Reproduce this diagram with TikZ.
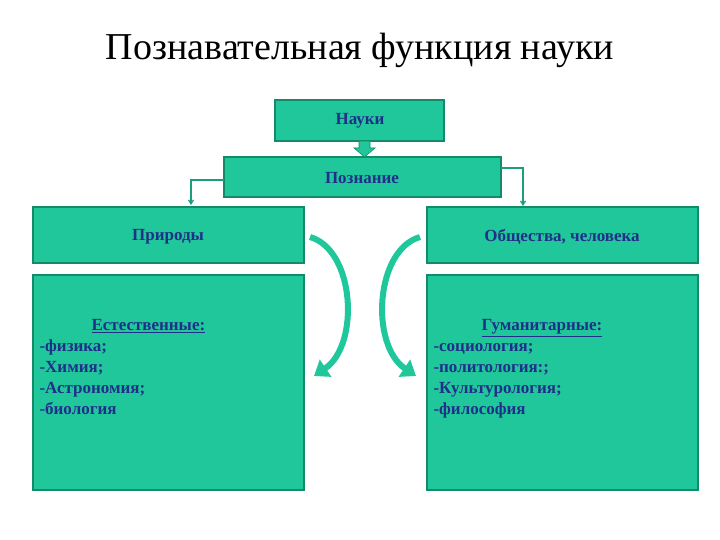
\documentclass[tikz,border=0pt]{standalone}
\usepackage{fontspec}
\setmainfont{Liberation Serif}
\usetikzlibrary{arrows.meta}
\definecolor{boxg}{HTML}{1FC79B}
\definecolor{edgeg}{HTML}{138A68}
\definecolor{txtb}{HTML}{1F2F8A}
\begin{document}
\begin{tikzpicture}[x=1pt,y=-1pt,
  box/.style={draw=edgeg,line width=1.2pt,fill=boxg,text=txtb,font=\bfseries\fontsize{17}{21}\selectfont},
  conn/.style={draw=boxg!80!black,line width=1.2pt,-{Straight Barb[length=4pt,width=5pt]}},
  curv/.style={draw=boxg,line width=6pt,-{Triangle[length=14pt,width=20pt]}}]
\useasboundingbox (0,0) rectangle (720,540);
\node[font=\fontsize{38}{44}\selectfont] (title) at (360,50) {Познавательная функция науки};
\path[box] (275,100) rectangle (444,141);
\node[text=txtb,font=\bfseries\fontsize{17}{21}\selectfont] (nauki) at (360,121) {Науки};
\path[box] (224,157) rectangle (501,197);
\node[text=txtb,font=\bfseries\fontsize{17}{21}\selectfont] (pozn) at (362,178) {Познание};
\path[box] (33,207) rectangle (304,263);
\node[text=txtb,font=\bfseries\fontsize{17}{21}\selectfont] (prir) at (168,237) {Природы};
\path[box] (427,207) rectangle (698,263);
\node[text=txtb,font=\bfseries\fontsize{17}{21}\selectfont] (obsh) at (562,237) {Общества, человека};
\path[box] (33,275) rectangle (304,490);
\path[box] (427,275) rectangle (698,490);
\node[text=txtb,font=\bfseries\fontsize{17}{21}\selectfont,align=left,anchor=north west] (est) at (36,316)
 {\hspace*{52pt}\underline{Естественные:}\\-физика;\\-Химия;\\-Астрономия;\\-биология};
\node[text=txtb,font=\bfseries\fontsize{17}{21}\selectfont,align=left,anchor=north west] (gum) at (430,316)
 {\hspace*{48pt}\underline{Гуманитарные:}\\-социология;\\-политология:;\\-Культурология;\\-философия};
% fat arrow
\fill[boxg,draw=edgeg,line width=0.6pt] (359,141)--(370,141)--(370,148)--(375,148)--(364.5,157)--(354,148)--(359,148)--cycle;
\coordinate (lc) at (191,180);
\coordinate (lt) at (191,205);
\coordinate (rc) at (523,168);
\coordinate (rt) at (523,206);
\draw[conn] (224,180) -- (lc) -- (lt);
\draw[conn] (501,168) -- (rc) -- (rt);
\draw[curv] (310,237) .. controls (355,250) and (360,345) .. (314,376);
\draw[curv] (420,237) .. controls (375,250) and (370,345) .. (416,376);
\end{tikzpicture}
\end{document}
